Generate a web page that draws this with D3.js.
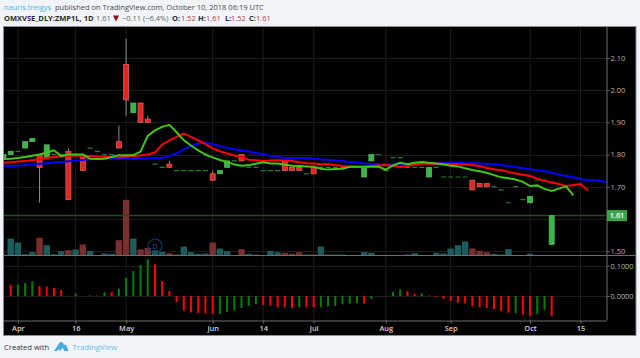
<!DOCTYPE html>
<html>
<head>
<meta charset="utf-8">
<script src="https://cdn.jsdelivr.net/npm/d3@7/dist/d3.min.js"></script>
<style>
html, body { margin: 0; padding: 0; background: #f1f4f8; }
svg { display: block; font-family: "Open Sans", sans-serif; }
</style>
</head>
<body>
<div id="viz"></div>
<script>
// bars are numbered from -1, the one cut off by the left edge
const firstBar = -1

const opens = [1.79,1.80,1.81,1.82,1.84,1.80,1.79,1.80,1.80,1.81,
    1.80,1.79,1.82,1.81,1.80,1.80,1.84,2.08,1.93,1.96,
    1.91,1.77,1.76,1.77,1.75,1.75,1.75,1.75,1.75,1.74,
    1.74,1.76,1.78,1.80,1.76,1.76,1.75,1.75,1.75,1.78,
    1.76,1.76,1.74,1.76,1.76,1.76,1.76,1.76,1.76,1.76,
    1.73,1.78,1.80,1.75,1.79,1.79,1.76,1.76,1.76,1.73,
    1.76,1.73,1.73,1.73,1.73,1.72,1.71,1.71,1.70,1.69,
    1.65,1.70,1.66,1.65,1.72,1.72,1.52]
const highs = [1.80,1.81,1.81,1.84,1.85,1.80,1.83,1.80,1.80,1.82,
    1.80,1.79,1.82,1.81,1.80,1.80,1.89,2.16,1.96,1.96,
    1.92,1.77,1.76,1.78,1.75,1.75,1.75,1.75,1.75,1.75,
    1.75,1.78,1.78,1.80,1.76,1.76,1.75,1.75,1.75,1.78,
    1.76,1.76,1.74,1.76,1.76,1.76,1.76,1.76,1.76,1.76,
    1.76,1.80,1.80,1.75,1.79,1.79,1.76,1.76,1.76,1.76,
    1.76,1.73,1.73,1.73,1.73,1.72,1.71,1.71,1.70,1.69,
    1.65,1.70,1.66,1.67,1.72,1.72,1.61]
const lows = [1.79,1.80,1.81,1.82,1.84,1.65,1.79,1.80,1.80,1.66,
    1.80,1.75,1.82,1.81,1.80,1.80,1.82,1.92,1.93,1.90,
    1.90,1.77,1.76,1.76,1.75,1.75,1.75,1.75,1.75,1.72,
    1.74,1.76,1.78,1.78,1.76,1.76,1.75,1.75,1.75,1.75,
    1.75,1.75,1.74,1.74,1.76,1.76,1.76,1.76,1.76,1.76,
    1.73,1.78,1.80,1.75,1.79,1.79,1.76,1.76,1.76,1.73,
    1.76,1.73,1.73,1.73,1.73,1.69,1.70,1.70,1.70,1.69,
    1.65,1.70,1.66,1.65,1.72,1.72,1.52]
const closes = [1.80,1.81,1.81,1.84,1.85,1.76,1.83,1.80,1.80,1.66,
    1.80,1.75,1.82,1.81,1.80,1.80,1.82,1.97,1.96,1.90,
    1.90,1.77,1.76,1.76,1.75,1.75,1.75,1.75,1.75,1.72,
    1.75,1.78,1.78,1.78,1.76,1.76,1.75,1.75,1.75,1.75,
    1.75,1.75,1.74,1.74,1.76,1.76,1.76,1.76,1.76,1.76,
    1.76,1.80,1.80,1.75,1.79,1.79,1.76,1.76,1.76,1.76,
    1.76,1.73,1.73,1.73,1.73,1.69,1.70,1.70,1.70,1.69,
    1.65,1.70,1.66,1.67,1.72,1.72,1.61]

// moving averages, also from bar -1, they run past the last candle
const greenLine = [1.786,1.787,1.789,1.792,1.796,1.800,1.806,1.813,1.795,1.800,1.800,1.800,1.787,1.786,1.787,1.792,1.798,1.798,1.798,1.809,1.858,1.875,1.886,1.892,1.869,1.844,1.828,1.813,1.800,1.791,1.783,1.777,1.769,1.765,1.767,1.771,1.776,1.772,1.772,1.768,1.765,1.764,1.763,1.762,1.756,1.753,1.755,1.756,1.762,1.762,1.762,1.762,1.762,1.753,1.766,1.774,1.770,1.774,1.777,1.774,1.772,1.769,1.765,1.763,1.757,1.752,1.748,1.743,1.736,1.729,1.726,1.722,1.715,1.702,1.704,1.693,1.687,1.694,1.701,1.673]
const redLine = [1.774,1.776,1.778,1.780,1.782,1.785,1.789,1.792,1.794,1.796,1.796,1.796,1.795,1.794,1.793,1.792,1.791,1.793,1.795,1.797,1.800,1.806,1.831,1.844,1.855,1.865,1.855,1.844,1.832,1.819,1.810,1.803,1.797,1.792,1.784,1.782,1.780,1.781,1.782,1.781,1.780,1.776,1.773,1.772,1.770,1.770,1.767,1.764,1.762,1.762,1.762,1.764,1.766,1.767,1.764,1.761,1.764,1.769,1.771,1.771,1.771,1.771,1.770,1.770,1.769,1.767,1.764,1.758,1.754,1.751,1.746,1.741,1.737,1.733,1.725,1.718,1.713,1.708,1.702,1.705,1.708,1.689]
const blueLine = [1.766,1.764,1.765,1.767,1.769,1.771,1.773,1.775,1.777,1.779,1.781,1.783,1.785,1.787,1.787,1.787,1.787,1.787,1.787,1.787,1.788,1.789,1.790,1.795,1.803,1.816,1.826,1.834,1.837,1.832,1.826,1.820,1.816,1.813,1.809,1.805,1.801,1.796,1.792,1.789,1.789,1.789,1.789,1.787,1.785,1.784,1.781,1.779,1.777,1.775,1.772,1.771,1.770,1.770,1.770,1.769,1.769,1.770,1.771,1.772,1.773,1.774,1.774,1.774,1.773,1.773,1.772,1.771,1.770,1.767,1.764,1.761,1.757,1.754,1.751,1.748,1.743,1.738,1.733,1.729,1.724,1.720,1.720,1.717,1.712]

// volume and histogram start at bar 0
const volumes = [17,13,1.3,3.3,17.7,10.3,1.3,4.3,5.3,6,11,4.7,0.3,2,1.7,15.3,55.7,17,6,7.7,5,3.7,2.3,1,9,3.3,1.7,2,13,7,4.3,0.3,6.3,1.7,1,0.3,4.7,3.3,2.7,1.7,3.3,1,1,9,1,1,1,0.3,0.3,3.3,2.7,0.3,0.3,0.3,0.3,1,2.3,0.3,0.5,2.7,2,7,10.3,14,7,4.7,3.3,1.7,1,6.3,0.3,0.3,1.7,0.3,0.3,0.3]
const volumeDownBars = [4,8,10,15,16,18,19,22,28,32,38,39,40,42,64,65,66]

const macdValues = [0.0363,0.0374,0.0418,0.0484,0.033,0.0308,0.0275,0.0198,0.001,0.0088,0,0.002,0.002,0.012,0.012,0.024,0.0605,0.0825,0.102,0.121,0.1045,0.0495,0.0165,-0.021,-0.048,-0.054,-0.056,-0.057,-0.059,-0.059,-0.053,-0.047,-0.04,-0.033,-0.026,-0.03,-0.032,-0.037,-0.037,-0.04,-0.037,-0.037,-0.037,-0.037,-0.035,-0.033,-0.0275,-0.025,-0.023,-0.025,-0.01,-0.001,-0.001,0.013,0.022,0.0165,0.0066,0.0088,0.002,-0.0033,-0.01,-0.0165,-0.022,-0.025,-0.033,-0.037,-0.04,-0.043,-0.05,-0.055,-0.056,-0.062,-0.067,-0.059,-0.045,-0.067]
const macdGreenBars = [1,2,3,9,11,12,13,15,16,17,18,19,29,30,31,32,33,34,40,43,44,45,46,47,48,50,51,52,53,54,57,70,73,74]

// 1.60 only has a grid line, its label sits under the last price tag
const priceGrid = [2.1, 2.0, 1.9, 1.8, 1.7, 1.6, 1.5]
const priceTicks = [2.1, 2.0, 1.9, 1.8, 1.7, 1.5]
const macdTicks = [0.1, 0]
const timeTicks = [1, 9, 16, 28, 35, 42, 52, 61, 72, 79]
const timeLabels = ["Apr", "16", "May", "Jun", "14", "Jul", "Aug", "Sep", "Oct", "15"]
const lastPrice = 1.61

const svgWidth = 640, svgHeight = 358
const panelLeft = 4, panelRight = 635.5, panelTop = 27, panelBottom = 335
const axisX = 606.5, timeAxisY = 320.5, dividerY = 255.5

const x = d3.scaleLinear().domain([0, 75]).range([10.7, 551.7])
const y = d3.scaleLinear().domain([1.5, 2.1]).range([251, 58])
const yVolume = d3.scaleLinear().domain([0, 55.7]).range([dividerY, 199.8])
const yMacd = d3.scaleLinear().domain([0, 0.1]).range([296, 265.7])

const svg = d3.select("#viz")
    .append("svg")
    .attr("width", svgWidth)
    .attr("height", svgHeight)

svg.append("rect")
    .attr("x", panelLeft - 0.5)
    .attr("y", panelTop - 0.5)
    .attr("width", panelRight - panelLeft + 1)
    .attr("height", panelBottom - panelTop + 1)
    .attr("fill", "#000")
    .attr("stroke", "#8a8d90")

svg.append("clipPath")
    .attr("id", "plot-clip")
    .append("rect")
    .attr("x", panelLeft)
    .attr("y", panelTop)
    .attr("width", axisX - panelLeft)
    .attr("height", timeAxisY - panelTop)

const plot = svg.append("g").attr("clip-path", "url(#plot-clip)")

// grid
plot.selectAll(".v-grid")
    .data(timeTicks)
    .enter()
    .append("line")
    .attr("x1", d => x(d))
    .attr("x2", d => x(d))
    .attr("y1", panelTop)
    .attr("y2", timeAxisY)
    .attr("stroke", "#1c1c1c")

plot.selectAll(".h-grid")
    .data(priceGrid)
    .enter()
    .append("line")
    .attr("x1", panelLeft)
    .attr("x2", axisX)
    .attr("y1", d => Math.round(y(d)) + 0.5)
    .attr("y2", d => Math.round(y(d)) + 0.5)
    .attr("stroke", "#1c1c1c")

plot.selectAll(".macd-grid")
    .data(macdTicks)
    .enter()
    .append("line")
    .attr("x1", panelLeft)
    .attr("x2", axisX)
    .attr("y1", d => Math.round(yMacd(d)) + 0.5)
    .attr("y2", d => Math.round(yMacd(d)) + 0.5)
    .attr("stroke", "#1c1c1c")

// volume
plot.selectAll(".volume")
    .data(volumes)
    .enter()
    .append("rect")
    .attr("x", (d, i) => x(i) - 3.2)
    .attr("y", d => yVolume(d))
    .attr("width", 6.4)
    .attr("height", d => dividerY - yVolume(d))
    .attr("fill", (d, i) => volumeDownBars.includes(i) ? "#7a2f2f" : "#1d5c5c")

// last price line
plot.append("line")
    .attr("x1", panelLeft)
    .attr("x2", axisX)
    .attr("y1", y(lastPrice))
    .attr("y2", y(lastPrice))
    .attr("stroke", "#1f4a24")
    .attr("stroke-width", 1.5)

// candles
const candles = opens.map((d, i) => ({bar: i + firstBar, open: d, high: highs[i], low: lows[i], close: closes[i]}))
const flat = candles.filter(d => d.open == d.close)
const bodies = candles.filter(d => d.open != d.close)

plot.selectAll(".doji")
    .data(flat)
    .enter()
    .append("line")
    .attr("x1", d => x(d.bar) - 2.5)
    .attr("x2", d => x(d.bar) + 2.5)
    .attr("y1", d => y(d.close))
    .attr("y2", d => y(d.close))
    .attr("stroke", "#2f7a38")
    .attr("stroke-width", 1.2)

plot.selectAll(".wick")
    .data(bodies)
    .enter()
    .append("line")
    .attr("x1", d => x(d.bar))
    .attr("x2", d => x(d.bar))
    .attr("y1", d => y(d.high))
    .attr("y2", d => y(d.low))
    .attr("stroke", "#8c8c8c")

plot.selectAll(".body")
    .data(bodies)
    .enter()
    .append("rect")
    .attr("x", d => x(d.bar) - 2.5)
    .attr("y", d => y(Math.max(d.open, d.close)))
    .attr("width", 5)
    .attr("height", d => Math.abs(y(d.open) - y(d.close)))
    .attr("fill", d => d.close > d.open ? "#3cb44a" : "#e3261f")
    .attr("stroke", d => d.close > d.open ? "#4db85a" : "#d9605a")
    .attr("stroke-width", 0.8)

// moving averages
const lineGenerator = d3.line()
    .x((d, i) => x(i + firstBar))
    .y(d => y(d))

const maLines = [[blueLine, "#0000ff"], [redLine, "#ff0000"], [greenLine, "#44c414"]]
maLines.forEach(d => {
    plot.append("path")
        .datum(d[0])
        .attr("fill", "none")
        .attr("stroke", d[1])
        .attr("stroke-width", 2)
        .attr("d", lineGenerator)
})

// histogram
plot.selectAll(".macd")
    .data(macdValues)
    .enter()
    .append("line")
    .attr("x1", (d, i) => x(i))
    .attr("x2", (d, i) => x(i))
    .attr("y1", yMacd(0))
    .attr("y2", d => yMacd(d))
    .attr("stroke", (d, i) => macdGreenBars.includes(i) ? "#008000" : "#ff0000")
    .attr("stroke-width", 2)

// split marker
const dividend = svg.append("g").attr("transform", `translate(155, 246)`)
dividend.append("circle")
    .attr("r", 7)
    .attr("fill", "none")
    .attr("stroke", "#0b3a6b")
    .attr("stroke-width", 1.2)
dividend.append("text")
    .attr("y", 2.6)
    .attr("text-anchor", "middle")
    .attr("font-size", 7)
    .attr("fill", "#1b5a9a")
    .text("D")

// panel dividers
svg.append("line")
    .attr("x1", panelLeft)
    .attr("x2", panelRight)
    .attr("y1", dividerY)
    .attr("y2", dividerY)
    .attr("stroke", "#6e6e6e")

const styleAxis = (g, color, weight) => {
    g.selectAll("path").attr("stroke", "#6e6e6e")
    g.selectAll("line").attr("stroke", "#6e6e6e")
    g.selectAll("text")
        .attr("fill", color)
        .attr("font-size", 7.4)
        .attr("font-weight", weight)
        .attr("font-family", "'Open Sans', sans-serif")
}

// axes
const priceAxis = svg.append("g")
    .attr("transform", `translate(${axisX}, 0)`)
    .call(d3.axisRight(y).tickValues(priceTicks).tickSize(3).tickPadding(1).tickFormat(d3.format(".2f")))
priceAxis.select("path").attr("d", `M0.5,${panelTop}V${timeAxisY}`)
styleAxis(priceAxis, "#b8b8b8", 400)

const macdAxis = svg.append("g")
    .attr("transform", `translate(${axisX}, 0)`)
    .call(d3.axisRight(yMacd).tickValues(macdTicks).tickSize(3).tickPadding(1).tickFormat(d3.format(".4f")))
macdAxis.select("path").remove()
styleAxis(macdAxis, "#b8b8b8", 400)

const timeAxis = svg.append("g")
    .attr("transform", `translate(0, ${timeAxisY})`)
    .call(d3.axisBottom(x).tickValues(timeTicks).tickSize(3).tickPadding(2).tickFormat((d, i) => timeLabels[i]))
timeAxis.select("path").attr("d", `M${panelLeft},0.5H${axisX}`)
styleAxis(timeAxis, "#d4d4d4", 600)

// last price tag
svg.append("rect")
    .attr("x", 607)
    .attr("y", y(lastPrice) - 5.5)
    .attr("width", 20)
    .attr("height", 11)
    .attr("fill", "#3aa548")
svg.append("text")
    .attr("x", 617)
    .attr("y", y(lastPrice) + 2.8)
    .attr("text-anchor", "middle")
    .attr("font-size", 7.4)
    .attr("font-weight", 600)
    .attr("fill", "#fff")
    .text(lastPrice.toFixed(2))

// header
const titleLine = svg.append("text").attr("y", 10).attr("font-size", 7.5).attr("fill", "#4a4a4a")
titleLine.append("tspan").attr("x", 4).attr("fill", "#56b2e0").text("nauris.treigys")
titleLine.append("tspan").attr("x", 55).text("published on TradingView.com, October 10, 2018 06:19 UTC")

const headerParts = [
    ["OMXVSE_DLY:ZMP1L, 1D", 4, "#2b2b2b", 700],
    ["1.61", 96, "#666", 400],
    ["−0.11 (−6.4%)", 122, "#666", 400],
    ["O:", 172, "#2b2b2b", 700],
    ["1.52", 181, "#c2333a", 400],
    ["H:", 198, "#2b2b2b", 700],
    ["1.61", 206, "#c2333a", 400],
    ["L:", 225, "#2b2b2b", 700],
    ["1.52", 231, "#c2333a", 400],
    ["C:", 249, "#2b2b2b", 700],
    ["1.61", 256, "#c2333a", 400]
]
svg.selectAll(".header-part")
    .data(headerParts)
    .enter()
    .append("text")
    .attr("x", d => d[1])
    .attr("y", 21)
    .attr("font-size", 7.5)
    .attr("fill", d => d[2])
    .attr("font-weight", d => d[3])
    .text(d => d[0])

svg.append("path")
    .attr("d", d3.line()([[113, 15.5], [119, 15.5], [116, 21.5]]) + "Z")
    .attr("fill", "#8b0f14")

// footer
svg.append("text")
    .attr("x", 4)
    .attr("y", 349.5)
    .attr("font-size", 7.6)
    .attr("fill", "#333")
    .text("Created with")

svg.append("path")
    .attr("d", "M54,351 L59,343.5 C60.5,341.5 62,341.5 63,343 L64,345 C65,344 66,344.5 66.5,345.5 L68.5,351 L64.5,351 L62.5,348 L60,351 L58.5,349 L57,351 Z")
    .attr("fill", "#4aa9de")

svg.append("text")
    .attr("x", 72.5)
    .attr("y", 349.5)
    .attr("font-size", 7.8)
    .attr("fill", "#6cbdec")
    .text("TradingView")
</script>
</body>
</html>
